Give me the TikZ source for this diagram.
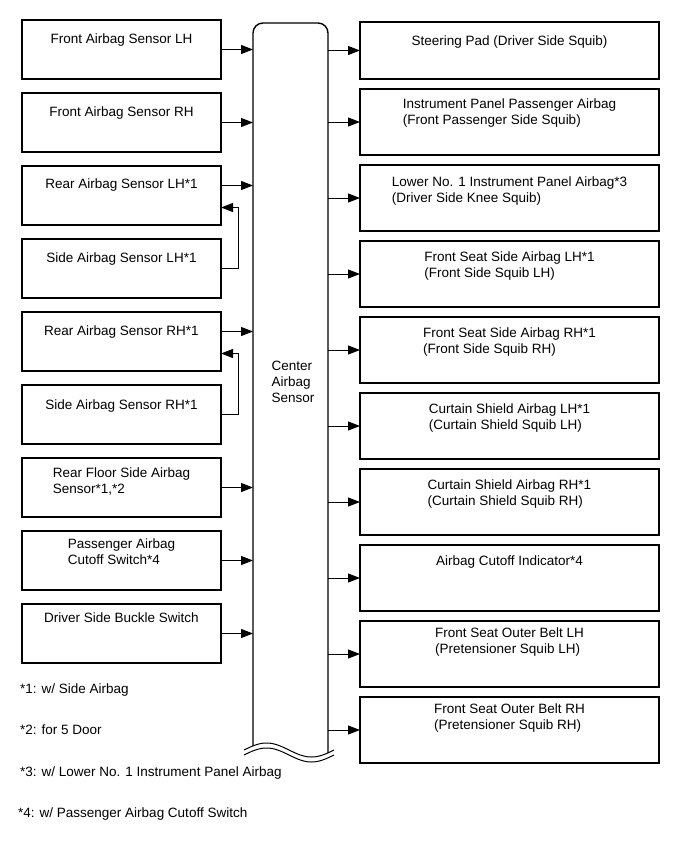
\documentclass[tikz,border=0pt]{standalone}
\usepackage{fontspec}
\setmainfont{Liberation Sans}
\usetikzlibrary{arrows.meta,positioning}

\begin{document}
\begin{tikzpicture}[x=1pt,y=-1pt,
  inbox/.style={draw, line width=1.6pt, minimum width=199pt, minimum height=59pt, inner sep=0pt, outer sep=0pt},
  outbox/.style={draw, line width=1.6pt, minimum width=299pt, minimum height=66pt, inner sep=0pt, outer sep=0pt},
  txt/.style={anchor=north, align=left, inner sep=0pt, font=\fontsize{13.5}{16}\selectfont},
  arr/.style={-{Triangle[length=12pt,width=9pt]}, line width=1pt},
  cline/.style={line width=1.4pt}]
  \useasboundingbox (0,0) rectangle (690,855);
  % Center airbag sensor (open at the bottom)
  \node[minimum width=75pt, minimum height=723pt, inner sep=0pt, outer sep=0pt] (cas) at (290.5,384.5) {};
  \draw[cline, rounded corners=10pt] (cas.south west) -- (cas.north west) -- (cas.north east) -- ([yshift=-7pt]cas.south east);
  \draw[line width=1pt] plot[domain=244:334, samples=46, smooth] (\x,{750-7*sin(4*(\x-244))});
  \draw[line width=1pt] plot[domain=244:334, samples=46, smooth] (\x,{755-7*sin(4*(\x-244))});
  \node[txt] (castxt) at (293,361) {Center\\Airbag\\Sensor};
  % Inputs (left side)
  \node[inbox] (l1) at (121.5,49.5) {};
  \node[inbox, below=14pt of l1] (l2) {};
  \node[inbox, below=14pt of l2] (l3) {};
  \node[inbox, below=14pt of l3] (l4) {};
  \node[inbox, below=14pt of l4] (l5) {};
  \node[inbox, below=14pt of l5] (l6) {};
  \node[inbox, below=14pt of l6] (l7) {};
  \node[inbox, below=14pt of l7] (l8) {};
  \node[inbox, below=14pt of l8] (l9) {};
  \node[txt] (lt1) at ([yshift=-14pt]l1.north) {Front Airbag Sensor LH};
  \node[txt] (lt2) at ([yshift=-14pt]l2.north) {Front Airbag Sensor RH};
  \node[txt] (lt3) at ([yshift=-13pt]l3.north) {Rear Airbag Sensor LH*1};
  \node[txt] (lt4) at ([yshift=-14pt]l4.north) {Side Airbag Sensor LH*1};
  \node[txt] (lt5) at ([yshift=-14pt]l5.north) {Rear Airbag Sensor RH*1};
  \node[txt] (lt6) at ([yshift=-15pt]l6.north) {Side Airbag Sensor RH*1};
  \node[txt] (lt7) at ([yshift=-10pt]l7.north) {Rear Floor Side Airbag\\Sensor*1,*2};
  \node[txt] (lt8) at ([yshift=-8pt]l8.north) {Passenger Airbag\\Cutoff Switch*4};
  \node[txt] (lt9) at ([yshift=-9pt]l9.north) {Driver Side Buckle Switch};
  \foreach \n in {l1,l2,l7,l8,l9}
    \draw[arr] (\n.east) -- (\n.east -| cas.west);
  \coordinate (l3o) at ([yshift=10pt]l3.east);
  \coordinate (l5o) at ([yshift=10pt]l5.east);
  \draw[arr] (l3o) -- (l3o -| cas.west);
  \draw[arr] (l5o) -- (l5o -| cas.west);
  % Side sensors feed the rear sensors
  \draw[arr] (l4.east) -- ++(17,0) |- ([yshift=-12pt]l3.east);
  \draw[arr] (l6.east) -- ++(17,0) |- ([yshift=-12pt]l5.east);
  % Outputs (right side)
  \node[outbox, minimum height=57pt] (r1) at (509.5,50.5) {};
  \node[outbox, below=10pt of r1] (r2) {};
  \node[outbox, below=10pt of r2] (r3) {};
  \node[outbox, below=10pt of r3] (r4) {};
  \node[outbox, below=10pt of r4] (r5) {};
  \node[outbox, below=10pt of r5] (r6) {};
  \node[outbox, below=10pt of r6] (r7) {};
  \node[outbox, below=10pt of r7] (r8) {};
  \node[outbox, below=10pt of r8] (r9) {};
  \node[outbox, below=10pt of r9] (r10) {};
  \node[txt] (rt1) at ([yshift=-14pt]r1.north) {Steering Pad (Driver Side Squib)};
  \node[txt] (rt2) at ([yshift=-10pt]r2.north) {Instrument Panel Passenger Airbag\\(Front Passenger Side Squib)};
  \node[txt] (rt3) at ([yshift=-12pt]r3.north) {Lower No. 1 Instrument Panel Airbag*3\\(Driver Side Knee Squib)};
  \node[txt] (rt4) at ([yshift=-11pt]r4.north) {Front Seat Side Airbag LH*1\\(Front Side Squib LH)};
  \node[txt] (rt5) at ([yshift=-11pt]r5.north) {Front Seat Side Airbag RH*1\\(Front Side Squib RH)};
  \node[txt] (rt6) at ([yshift=-11pt]r6.north) {Curtain Shield Airbag LH*1\\(Curtain Shield Squib LH)};
  \node[txt] (rt7) at ([yshift=-11pt]r7.north) {Curtain Shield Airbag RH*1\\(Curtain Shield Squib RH)};
  \node[txt] (rt8) at ([yshift=-11pt]r8.north) {Airbag Cutoff Indicator*4};
  \node[txt] (rt9) at ([yshift=-7pt]r9.north) {Front Seat Outer Belt LH\\(Pretensioner Squib LH)};
  \node[txt] (rt10) at ([yshift=-7pt]r10.north) {Front Seat Outer Belt RH\\(Pretensioner Squib RH)};
  \foreach \n in {r1,r2,r3,r4,r5,r6,r7,r8,r9,r10}
    \draw[arr] (\n.west -| cas.east) -- (\n.west);
  % Notes
  \node[txt, anchor=base west] (n1) at (20,693) {*1: w/ Side Airbag};
  \node[txt, anchor=base west] (n2) at (20,734) {*2: for 5 Door};
  \node[txt, anchor=base west] (n3) at (20,776) {*3: w/ Lower No. 1 Instrument Panel Airbag};
  \node[txt, anchor=base west] (n4) at (18,817) {*4: w/ Passenger Airbag Cutoff Switch};
\end{tikzpicture}
\end{document}
